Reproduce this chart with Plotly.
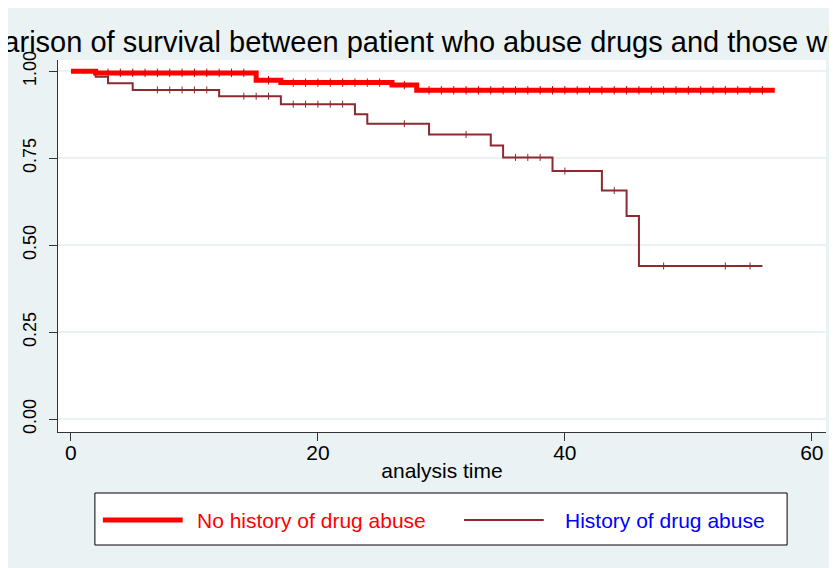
import numpy as np
import plotly.graph_objects as go

# ---- data ----
red_times = [0, 2, 15, 17, 26, 28, 57]
red_surv = [1.0, 0.995, 0.974, 0.967, 0.960, 0.945, 0.945]
red_censor = list(range(3, 15)) + [16] + list(range(18, 26)) + [27] + list(range(29, 57))

brown_times = [0, 2, 3, 5, 12, 17, 23, 24, 29, 34, 35, 39, 43, 45, 46, 56]
brown_surv = [1.0, 0.984, 0.965, 0.946, 0.928, 0.905, 0.876, 0.849, 0.818,
              0.786, 0.752, 0.713, 0.657, 0.584, 0.440, 0.440]
brown_censor = [7, 8, 9, 10, 11, 14, 15, 16, 18, 19, 20, 21, 22, 27, 32,
                36, 37, 38, 40, 44, 48, 53, 55]

x_ticks = [0, 20, 40, 60]
y_ticks = [0.0, 0.25, 0.5, 0.75, 1.0]
y_tick_labels = ["0.00", "0.25", "0.50", "0.75", "1.00"]

names = ["No history of drug abuse", "History of drug abuse"]
title_text = "Comparison of survival between patient who abuse drugs and those who do not"

RED = "#FF0000"
BROWN = "#8E2A2F"
BG = "#EAF2F3"
FONT = "Liberation Sans, Arial, sans-serif"


def step_at(times, surv, t):
    idx = np.searchsorted(np.asarray(times), np.asarray(t), side="right") - 1
    return np.asarray(surv)[idx]


fig = go.Figure()

fig.add_trace(go.Scatter(x=brown_times, y=brown_surv, mode="lines",
                         line=dict(color=BROWN, width=2, shape="hv"),
                         name=names[1], showlegend=False))
fig.add_trace(go.Scatter(x=brown_censor, y=step_at(brown_times, brown_surv, brown_censor),
                         mode="markers",
                         marker=dict(symbol="line-ns", size=5,
                                     line=dict(color=BROWN, width=1)),
                         showlegend=False, hoverinfo="skip"))
fig.add_trace(go.Scatter(x=red_times, y=red_surv, mode="lines",
                         line=dict(color=RED, width=5, shape="hv"),
                         name=names[0], showlegend=False))
fig.add_trace(go.Scatter(x=red_censor, y=step_at(red_times, red_surv, red_censor),
                         mode="markers",
                         marker=dict(symbol="line-ns", size=6,
                                     line=dict(color="#D00000", width=1)),
                         showlegend=False, hoverinfo="skip"))

W, H = 837, 568
ml, mr, mt, mb = 48, 19, 52, 144
pw, ph = W - ml - mr, H - mt - mb


def px(xp):
    return (xp - ml) / pw


def py(yp):
    return (H - mb - yp) / ph


fig.update_layout(
    width=W, height=H,
    margin=dict(l=ml, r=mr, t=mt, b=mb, pad=0),
    paper_bgcolor=BG, plot_bgcolor="white",
    font=dict(family=FONT, color="black"),
    xaxis=dict(range=[-1.05, 61.15], tickvals=x_ticks, ticktext=[str(v) for v in x_ticks],
               showgrid=False, zeroline=False, showline=True, linecolor="#333333", linewidth=1,
               ticks="outside", ticklen=8, tickcolor="#333333", tickwidth=1,
               ticklabelstandoff=-6,
               tickfont=dict(size=21, family=FONT),
               title=dict(text="analysis time", font=dict(size=21, family=FONT), standoff=0)),
    yaxis=dict(range=[-0.037, 1.032], tickvals=y_ticks, ticktext=y_tick_labels,
               tickangle=-90, showgrid=True, gridcolor=BG, gridwidth=2,
               zeroline=False, showline=True, linecolor="#333333", linewidth=1,
               ticks="outside", ticklen=8, tickcolor="#333333", tickwidth=1,
               ticklabelstandoff=6,
               tickfont=dict(size=18, family=FONT)),
    showlegend=False,
)

# title (overflows the figure like the reference)
fig.add_annotation(text=title_text, xref="paper", yref="paper",
                   x=px(-86), y=py(34), xanchor="left", yanchor="middle",
                   showarrow=False, font=dict(size=29, family=FONT, color="black"))

# legend box drawn manually
fig.add_shape(type="rect", xref="paper", yref="paper",
              x0=px(85), x1=px(779), y0=py(537), y1=py(485),
              line=dict(color="black", width=1), fillcolor="white", layer="above")
fig.add_shape(type="line", xref="paper", yref="paper",
              x0=px(93), x1=px(173), y0=py(512), y1=py(512),
              line=dict(color=RED, width=5))
fig.add_shape(type="line", xref="paper", yref="paper",
              x0=px(455), x1=px(535), y0=py(512), y1=py(512),
              line=dict(color=BROWN, width=2))
fig.add_annotation(text=names[0], xref="paper", yref="paper", x=px(185), y=py(512),
                   xanchor="left", yanchor="middle", showarrow=False,
                   font=dict(size=21, family=FONT, color=RED))
fig.add_annotation(text=names[1], xref="paper", yref="paper", x=px(554), y=py(512),
                   xanchor="left", yanchor="middle", showarrow=False,
                   font=dict(size=21, family=FONT, color="#0000FF"))

fig.write_html("out.html")
